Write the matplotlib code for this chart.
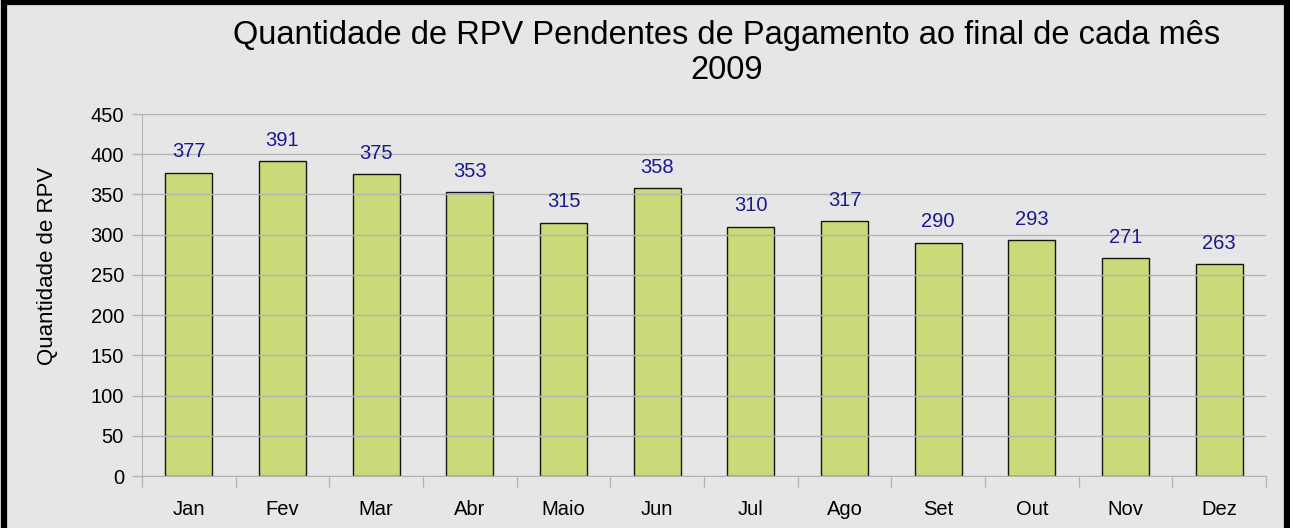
import matplotlib.pyplot as plt
import numpy as np

plt.rcParams['font.family'] = ['Liberation Sans', 'DejaVu Sans']

meses = ['Jan', 'Fev', 'Mar', 'Abr', 'Maio', 'Jun', 'Jul', 'Ago', 'Set', 'Out', 'Nov', 'Dez']
rpv = [377, 391, 375, 353, 315, 358, 310, 317, 290, 293, 271, 263]

bg = '#e6e6e6'
fig = plt.figure(figsize=(12.9, 5.28), dpi=100, facecolor=bg)
ax = fig.add_axes([142/1290, 1 - 476/528, (1266-142)/1290, (476-114)/528])
ax.set_facecolor(bg)

x = np.arange(len(meses))
ax.bar(x, rpv, width=0.5, color='#c8d96c', edgecolor='black', linewidth=1, alpha=0.9, zorder=2)
for xi, v in zip(x, rpv):
    ax.annotate(str(v), (xi, v), xytext=(0, 15), textcoords='offset points',
                ha='center', va='center', fontsize=14.5, color='#1a1a8c', zorder=4)

ax.set_xlim(-0.5, len(meses) - 0.5)
ax.set_ylim(0, 450)
ax.set_yticks(range(0, 451, 50))
ax.yaxis.grid(True, color='#b4b4b4', linewidth=1, zorder=3)
ax.set_axisbelow(False)

ax.set_xticks(x)
ax.set_xticklabels(meses, fontsize=14.5)
ax.tick_params(axis='x', length=0, pad=17)
ax.set_xticks(np.arange(-0.5, len(meses)), minor=True)
ax.tick_params(axis='x', which='minor', length=8, color='#b4b4b4', width=1)
ax.tick_params(axis='y', length=7, color='#b4b4b4', width=1, labelsize=14.5, pad=6)

for s in ['top', 'right']:
    ax.spines[s].set_visible(False)
for s in ['left', 'bottom']:
    ax.spines[s].set_color('#b4b4b4')
    ax.spines[s].set_zorder(3)

ax.set_ylabel('Quantidade de RPV', fontsize=16)
ax.yaxis.set_label_coords(-0.075, 0.58)

fig.text(0.5636, 0.9, 'Quantidade de RPV Pendentes de Pagamento ao final de cada mês\n2009',
         ha='center', va='center', fontsize=23.5, linespacing=1.15)

# moldura preta
fig.patches.append(plt.Rectangle((0.003, -0.01), 0.995, 1.006, transform=fig.transFigure,
                                 fill=False, edgecolor='black', linewidth=4.5))

fig.savefig('out.png', dpi=100, facecolor=bg)
